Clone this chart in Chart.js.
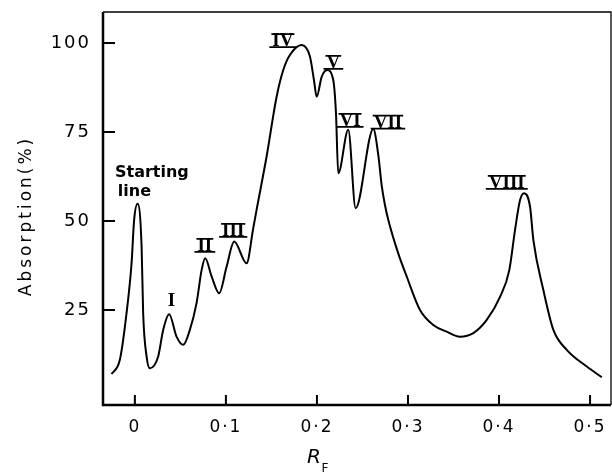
<!DOCTYPE html>
<html>
<head>
<meta charset="utf-8">
<title>Absorption vs RF</title>
<script src="https://cdn.jsdelivr.net/npm/chart.js@4.4.0/dist/chart.umd.min.js"></script>
<style>
  html, body { margin: 0; padding: 0; background: #fff; }
  #wrap { width: 612px; height: 476px; }
</style>
</head>
<body>
<div id="wrap"><canvas id="myChart" width="612" height="476"></canvas></div>
<script>
// Curve: RF position and absorption (%)
const rfValues = [-0.0256, -0.0165, -0.0091, -0.0036, -0.0008, 0.003, 0.0074, 0.0091, 0.0129, 0.0165,
  0.0256, 0.0311, 0.0377, 0.0458, 0.0531, 0.0604, 0.0678, 0.0733, 0.0773, 0.0843,
  0.0926, 0.1008, 0.1091, 0.1227, 0.130, 0.1337, 0.1447, 0.1557, 0.163, 0.1703,
  0.1832, 0.1923, 0.1967, 0.1997, 0.2052, 0.2113, 0.2179, 0.2209, 0.2234, 0.2344,
  0.2425, 0.2619, 0.2674, 0.2711, 0.2747, 0.2784, 0.2893, 0.2986, 0.3132, 0.3278, 0.3425,
  0.3571, 0.3718, 0.3865, 0.4011, 0.4113, 0.4176, 0.4231, 0.4275, 0.4341, 0.4377,
  0.4487, 0.4597, 0.4744, 0.4964, 0.5129];
const absorption = [7.0, 11.0, 24.2, 38.2, 50.3, 54.8, 42.8, 24.2, 11.9, 8.6,
  11.9, 19.4, 23.8, 17.5, 15.2, 19.4, 27.0, 36.2, 39.5, 34.4,
  29.7, 37.2, 44.2, 38.1, 47.9, 53.1, 68.1, 84.9, 92.4, 96.6,
  99.4, 96.2, 89.6, 84.9, 90.5, 92.4, 89.6, 80.3, 63.4, 75.6,
  53.6, 75.8, 68.5, 60.0, 54.5, 50.3, 40.9, 34.4, 25.0, 20.8, 18.9,
  17.5, 18.5, 22.2, 28.7, 36.2, 47.5, 55.9, 57.8, 54.0, 44.7,
  30.6, 19.4, 13.8, 9.1, 6.1];

// Tick values and their printed labels
const xTicks = [0, 0.1, 0.2, 0.3, 0.4, 0.5];
const xTickLabels = ['0', '0·1', '0·2', '0·3', '0·4', '0·5'];
const yTicks = [25, 50, 75, 100];
const yTickLabels = ['25', '50', '75', '100'];

// Peak names and where they sit (in data units)
const peakNames = ['I', 'II', 'III', 'IV', 'V', 'VI', 'VII', 'VIII'];
const peakLabelRf = [0.0403, 0.0769, 0.108, 0.1626, 0.218, 0.2363, 0.278, 0.4085];
const peakLabelAbs = [27.8, 43.3, 47.5, 100.8, 94.7, 78.4, 77.9, 61.0];
const startNote = ['Starting', 'line'];
const startNoteRf = [0.0187, -0.0005];
const startNoteAbs = [63.6, 58.3];

const ctx = document.getElementById('myChart').getContext('2d');

// Frame, inward ticks, axis titles and peak labels
const decorPlugin = {
  id: 'decor',
  beforeDraw(chart) {
    chart.ctx.letterSpacing = '2px'; // wider spacing for tick labels
  },
  afterDraw(chart) {
    const c = chart.ctx;
    const a = chart.chartArea;
    const xs = chart.scales.x;
    const ys = chart.scales.y;
    c.save();
    c.letterSpacing = '0px';
    c.strokeStyle = '#000';
    c.lineCap = 'butt';

    // thin top and right frame
    c.lineWidth = 1.3;
    c.beginPath();
    c.moveTo(a.left, a.top); c.lineTo(a.right, a.top); c.lineTo(a.right, a.bottom);
    c.stroke();

    // heavy left and bottom axes
    c.lineWidth = 2.5;
    c.beginPath();
    c.moveTo(a.left, a.top); c.lineTo(a.left, a.bottom); c.lineTo(a.right, a.bottom);
    c.stroke();

    // inward ticks
    c.lineWidth = 2;
    c.beginPath();
    ys.ticks.forEach(t => {
      const py = ys.getPixelForValue(t.value);
      c.moveTo(a.left, py); c.lineTo(a.left + 12, py);
    });
    xs.ticks.forEach(t => {
      const px = xs.getPixelForValue(t.value);
      c.moveTo(px, a.bottom); c.lineTo(px, a.bottom - 10);
    });
    c.stroke();

    // y title
    c.fillStyle = '#000';
    c.save();
    c.translate(27, 216);
    c.rotate(-Math.PI / 2);
    c.letterSpacing = '3px';
    c.font = '17px "DejaVu Sans"';
    c.textAlign = 'center';
    c.textBaseline = 'middle';
    c.fillText('Absorption(%)', 0, 0);
    c.restore();

    // x title: italic R with subscript F
    c.font = 'italic 20px "DejaVu Sans"';
    c.textAlign = 'center';
    c.textBaseline = 'middle';
    c.fillText('R', 314, 458);
    c.font = '12px "DejaVu Sans"';
    c.fillText('F', 325, 469);

    // starting line note
    c.font = 'bold 16px "DejaVu Sans"';
    startNote.forEach((txt, i) => {
      c.fillText(txt, xs.getPixelForValue(startNoteRf[i]), ys.getPixelForValue(startNoteAbs[i]));
    });

    // roman numeral peak labels with bars above and below
    c.font = 'bold 19px "Liberation Serif"';
    c.lineWidth = 1.8;
    peakNames.forEach((name, i) => {
      const px = xs.getPixelForValue(peakLabelRf[i]);
      const py = ys.getPixelForValue(peakLabelAbs[i]);
      c.fillText(name, px, py + 1);
      if (name !== 'I') {
        const half = c.measureText(name).width / 2 + 3;
        c.beginPath();
        c.moveTo(px - half, py + 7); c.lineTo(px + half, py + 7);
        c.moveTo(px - half + 2, py - 6); c.lineTo(px + half - 2, py - 6);
        c.stroke();
      }
    });
    c.restore();
  }
};

let myChart = new Chart(ctx, {
  type: 'line',
  data: {
    datasets: [{
      data: rfValues.map((rf, i) => ({ x: rf, y: absorption[i] })),
      borderColor: '#000',
      borderWidth: 2,
      pointRadius: 0,
      fill: false,
      cubicInterpolationMode: 'monotone'
    }]
  },
  options: {
    responsive: false,
    animation: false,
    layout: { padding: { top: 12, right: 1, left: 0, bottom: 0 } },
    plugins: { legend: { display: false }, tooltip: { enabled: false } },
    scales: {
      x: {
        type: 'linear',
        min: -0.035,
        max: 0.523,
        grid: { display: false, drawTicks: false },
        border: { display: false },
        afterBuildTicks: s => { s.ticks = xTicks.map(v => ({ value: v })); },
        afterFit: s => { s.height = 71; s.paddingLeft = 0; s.paddingRight = 0; },
        ticks: {
          padding: 12,
          color: '#000',
          font: { family: 'DejaVu Sans', size: 17 },
          maxRotation: 0,
          callback: (v, i) => xTickLabels[i]
        }
      },
      y: {
        min: -1.7,
        max: 108.7,
        grid: { display: false, drawTicks: false },
        border: { display: false },
        afterBuildTicks: s => { s.ticks = yTicks.map(v => ({ value: v })); },
        afterFit: s => { s.width = 103; s.paddingTop = 0; s.paddingBottom = 0; },
        ticks: {
          padding: 12,
          color: '#000',
          font: { family: 'DejaVu Sans', size: 18 },
          callback: (v, i) => yTickLabels[i]
        }
      }
    }
  },
  plugins: [decorPlugin]
});
</script>
</body>
</html>
